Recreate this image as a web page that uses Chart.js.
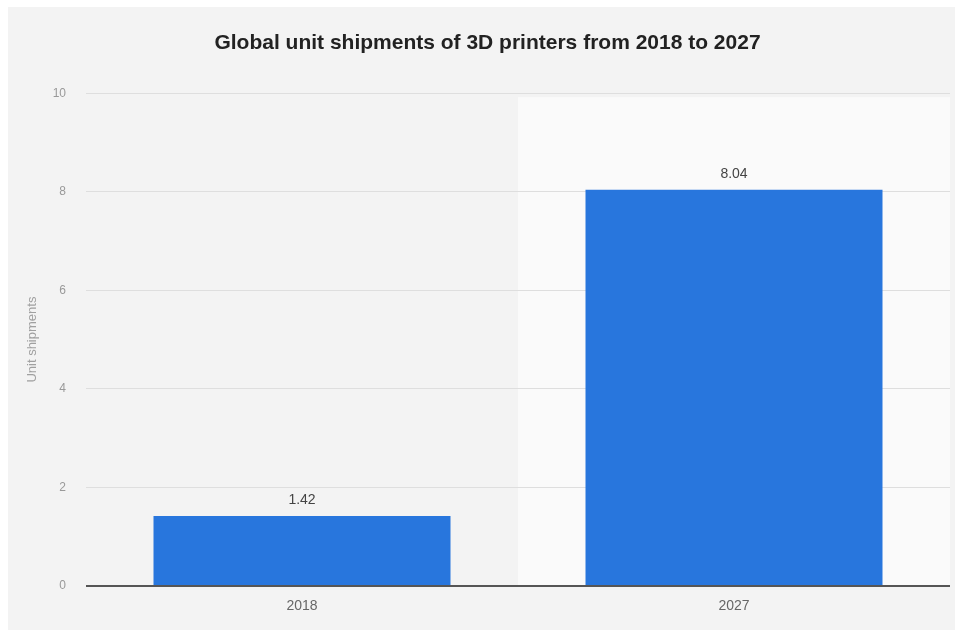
<!DOCTYPE html>
<html>
<head>
<meta charset="utf-8">
<script src="https://cdn.jsdelivr.net/npm/chart.js@4/dist/chart.umd.min.js"></script>
<style>
  html, body { margin: 0; padding: 0; background: #fff; }
  #wrap { position: absolute; left: 0; top: 0; width: 957px; height: 630px; }
</style>
</head>
<body>
<div id="wrap"><canvas id="myChart" width="957" height="630"></canvas></div>
<script>
const years = ["2018", "2027"];
const shipments = [1.42, 8.04];
const yTicks = [0, 2, 4, 6, 8, 10];
const titleText = "Global unit shipments of 3D printers from 2018 to 2027";
const yTitle = "Unit shipments";

// gray panel behind the chart, plus a lighter band behind the last category
const panelBg = {
  id: "panelBg",
  beforeDraw(chart) {
    const c = chart.ctx;
    c.save();
    c.fillStyle = "#ffffff";
    c.fillRect(0, 0, chart.width, chart.height);
    c.fillStyle = "#f3f3f3";
    c.fillRect(8, 7, chart.width - 10, chart.height - 7);
    const x = chart.scales.x, a = chart.chartArea;
    const half = (x.getPixelForValue(1) - x.getPixelForValue(0)) / 2;
    const left = x.getPixelForValue(1) - half;
    c.fillStyle = "#fafafa";
    c.fillRect(left, a.top + 4, a.right - left, a.bottom - a.top - 4);
    c.restore();
  }
};

// value labels above each bar
const valueLabels = {
  id: "valueLabels",
  afterDatasetsDraw(chart) {
    const c = chart.ctx;
    const meta = chart.getDatasetMeta(0);
    c.save();
    c.font = "14px 'Liberation Sans', Arial, sans-serif";
    c.fillStyle = "#444";
    c.textAlign = "center";
    c.textBaseline = "bottom";
    meta.data.forEach((bar, i) => {
      c.fillText(shipments[i].toFixed(2), bar.x, bar.y - 9);
    });
    c.restore();
  }
};

const ch = document.getElementById("myChart");
new Chart(ch, {
  type: "bar",
  data: {
    labels: years,
    datasets: [{
      label: yTitle,
      data: shipments,
      backgroundColor: "#2876dd",
      borderWidth: 0,
      barPercentage: 0.6875,
      categoryPercentage: 1.0
    }]
  },
  options: {
    responsive: false,
    animation: false,
    events: [],
    layout: { padding: { left: 25, right: 7, top: 0, bottom: 0 } },
    plugins: {
      legend: { display: false },
      tooltip: { enabled: false },
      title: {
        display: true,
        text: titleText,
        color: "#222",
        font: { family: "'Liberation Sans', Arial, sans-serif", size: 21, weight: "bold" },
        padding: { top: 31, bottom: 37 }
      }
    },
    scales: {
      x: {
        border: { display: false },
        grid: { display: false, drawTicks: false },
        ticks: {
          color: "#666",
          padding: 12,
          font: { family: "'Liberation Sans', Arial, sans-serif", size: 14 }
        },
        afterFit(s) { s.height = 44; }
      },
      y: {
        min: 0,
        max: 10,
        border: { display: false },
        afterBuildTicks(s) { s.ticks = yTicks.map(v => ({ value: v })); },
        grid: {
          drawTicks: false,
          color: ctx => ctx.tick && ctx.tick.value === 0 ? "#555" : "#dedede",
          lineWidth: ctx => ctx.tick && ctx.tick.value === 0 ? 2 : 1
        },
        ticks: {
          color: "#999",
          padding: 20,
          font: { family: "'Liberation Sans', Arial, sans-serif", size: 12 }
        },
        title: {
          display: true,
          text: yTitle,
          color: "#a0a0a0",
          font: { family: "'Liberation Sans', Arial, sans-serif", size: 13 },
          padding: { top: 0, bottom: 0 }
        },
        afterFit(s) { s.width = 61; }
      }
    }
  },
  plugins: [panelBg, valueLabels]
});
</script>
</body>
</html>
